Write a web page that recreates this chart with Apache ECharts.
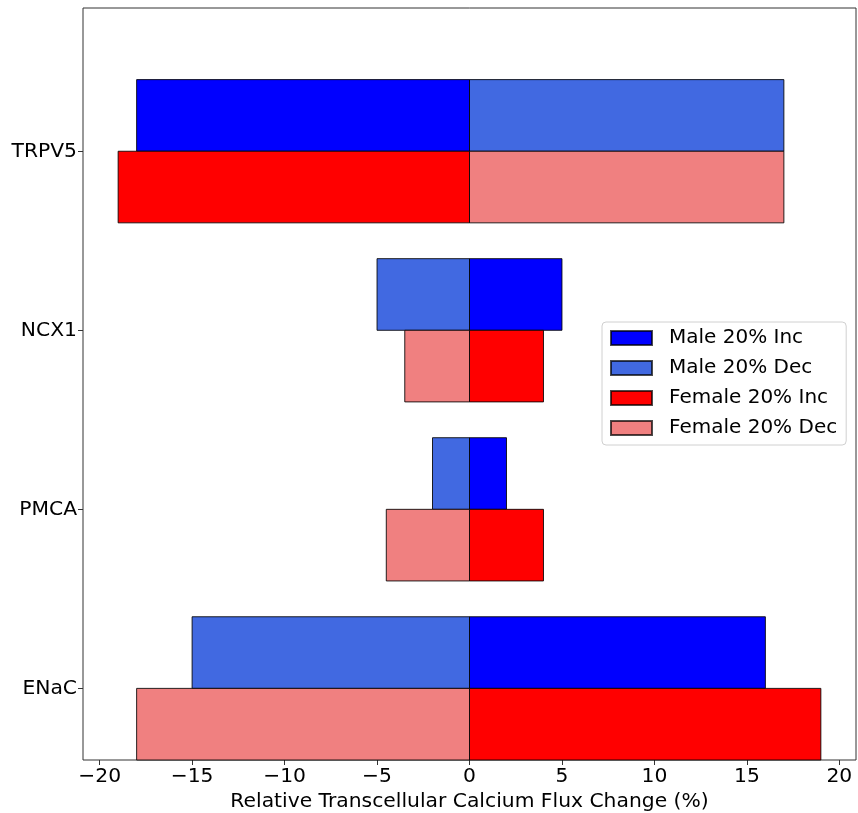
<!DOCTYPE html>
<html>
<head>
<meta charset="utf-8">
<script src="https://cdn.jsdelivr.net/npm/echarts@6/dist/echarts.min.js"></script>
<style>
  html, body { margin: 0; padding: 0; background: #fff; }
  #chart { width: 858px; height: 813px; }
</style>
</head>
<body>
<div id="chart"></div>
<script>
// Channels, listed bottom to top along the vertical axis
const channels = ['ENaC', 'PMCA', 'NCX1', 'TRPV5'];

// Relative transcellular calcium flux change (%) per channel, same order as above
const maleInc = [16, 2, 5, -18];
const maleDec = [-15, -2, -5, 17];
const femaleInc = [19, 4, 4, -19];
const femaleDec = [-18, -4.5, -3.5, 17];

const xTicks = [-20, -15, -10, -5, 0, 5, 10, 15, 20];
const yTicks = [0, 1, 2, 3];

const FONT = 'DejaVu Sans';
const BAR_H = 0.4;

// Each bar spans from 0 to its value; male bars sit above the channel line, female below
function makeRender(offset) {
  return function (params, api) {
    const v = api.value(0);
    const c = api.value(1);
    const pTop = api.coord([0, c + offset + BAR_H]);
    const pBot = api.coord([v, c + offset]);
    const x = Math.min(pTop[0], pBot[0]);
    const w = Math.abs(pBot[0] - pTop[0]);
    return {
      type: 'rect',
      shape: { x: x, y: pTop[1], width: w, height: pBot[1] - pTop[1] },
      style: api.style({ stroke: 'rgba(0,0,0,0.85)', lineWidth: 1 })
    };
  };
}

function barSeries(name, values, color, offset) {
  return {
    name: name,
    type: 'custom',
    renderItem: makeRender(offset),
    itemStyle: { color: color, borderColor: 'rgba(0,0,0,0.7)', borderWidth: 1 },
    encode: { x: 0, y: 1 },
    data: values.map((v, i) => [v, i])
  };
}

const chart = echarts.init(document.getElementById('chart'), null, { renderer: 'canvas' });

chart.setOption({
  animation: false,
  backgroundColor: '#fff',
  textStyle: { fontFamily: FONT },
  grid: {
    left: 83, right: 2, top: 8, bottom: 53,
    containLabel: false,
    outerBoundsMode: 'none',
    show: true, borderColor: '#333', borderWidth: 1, backgroundColor: 'transparent'
  },
  xAxis: {
    type: 'value',
    min: -20.9, max: 20.9,
    name: 'Relative Transcellular Calcium Flux Change (%)',
    nameLocation: 'middle',
    nameGap: 28,
    nameTextStyle: { fontFamily: FONT, fontSize: 20.3, color: '#000' },
    axisLine: { show: false, onZero: false },
    splitLine: { show: false },
    axisTick: { show: true, customValues: xTicks, length: 5, lineStyle: { color: '#333' } },
    axisLabel: {
      customValues: xTicks,
      margin: 7,
      fontFamily: FONT, fontSize: 20.3, color: '#000',
      formatter: v => (v < 0 ? '\u2212' + Math.abs(v) : String(v))
    }
  },
  yAxis: {
    type: 'value',
    min: -0.4, max: 3.8,
    axisLine: { show: false, onZero: false },
    splitLine: { show: false },
    axisTick: { show: true, customValues: yTicks, length: 5, lineStyle: { color: '#333' } },
    axisLabel: {
      customValues: yTicks,
      margin: 6,
      fontFamily: FONT, fontSize: 20.3, color: '#000',
      formatter: v => channels[Math.round(v)]
    }
  },
  legend: {
    orient: 'vertical',
    left: 602, top: 322,
    icon: 'rect',
    itemWidth: 41, itemHeight: 14,
    itemGap: 10,
    padding: [6, 9, 7, 8],
    backgroundColor: '#fff',
    borderColor: '#d0d0d0',
    borderWidth: 1,
    borderRadius: 4,
    textStyle: { fontFamily: FONT, fontSize: 20, color: '#000', lineHeight: 20, padding: [0, 0, 0, 12] },
    data: ['Male 20% Inc', 'Male 20% Dec', 'Female 20% Inc', 'Female 20% Dec']
  },
  series: [
    barSeries('Male 20% Inc', maleInc, '#0000ff', 0),
    barSeries('Male 20% Dec', maleDec, '#4169e1', 0),
    barSeries('Female 20% Inc', femaleInc, '#ff0000', -BAR_H),
    barSeries('Female 20% Dec', femaleDec, '#f08080', -BAR_H)
  ]
});
</script>
</body>
</html>
